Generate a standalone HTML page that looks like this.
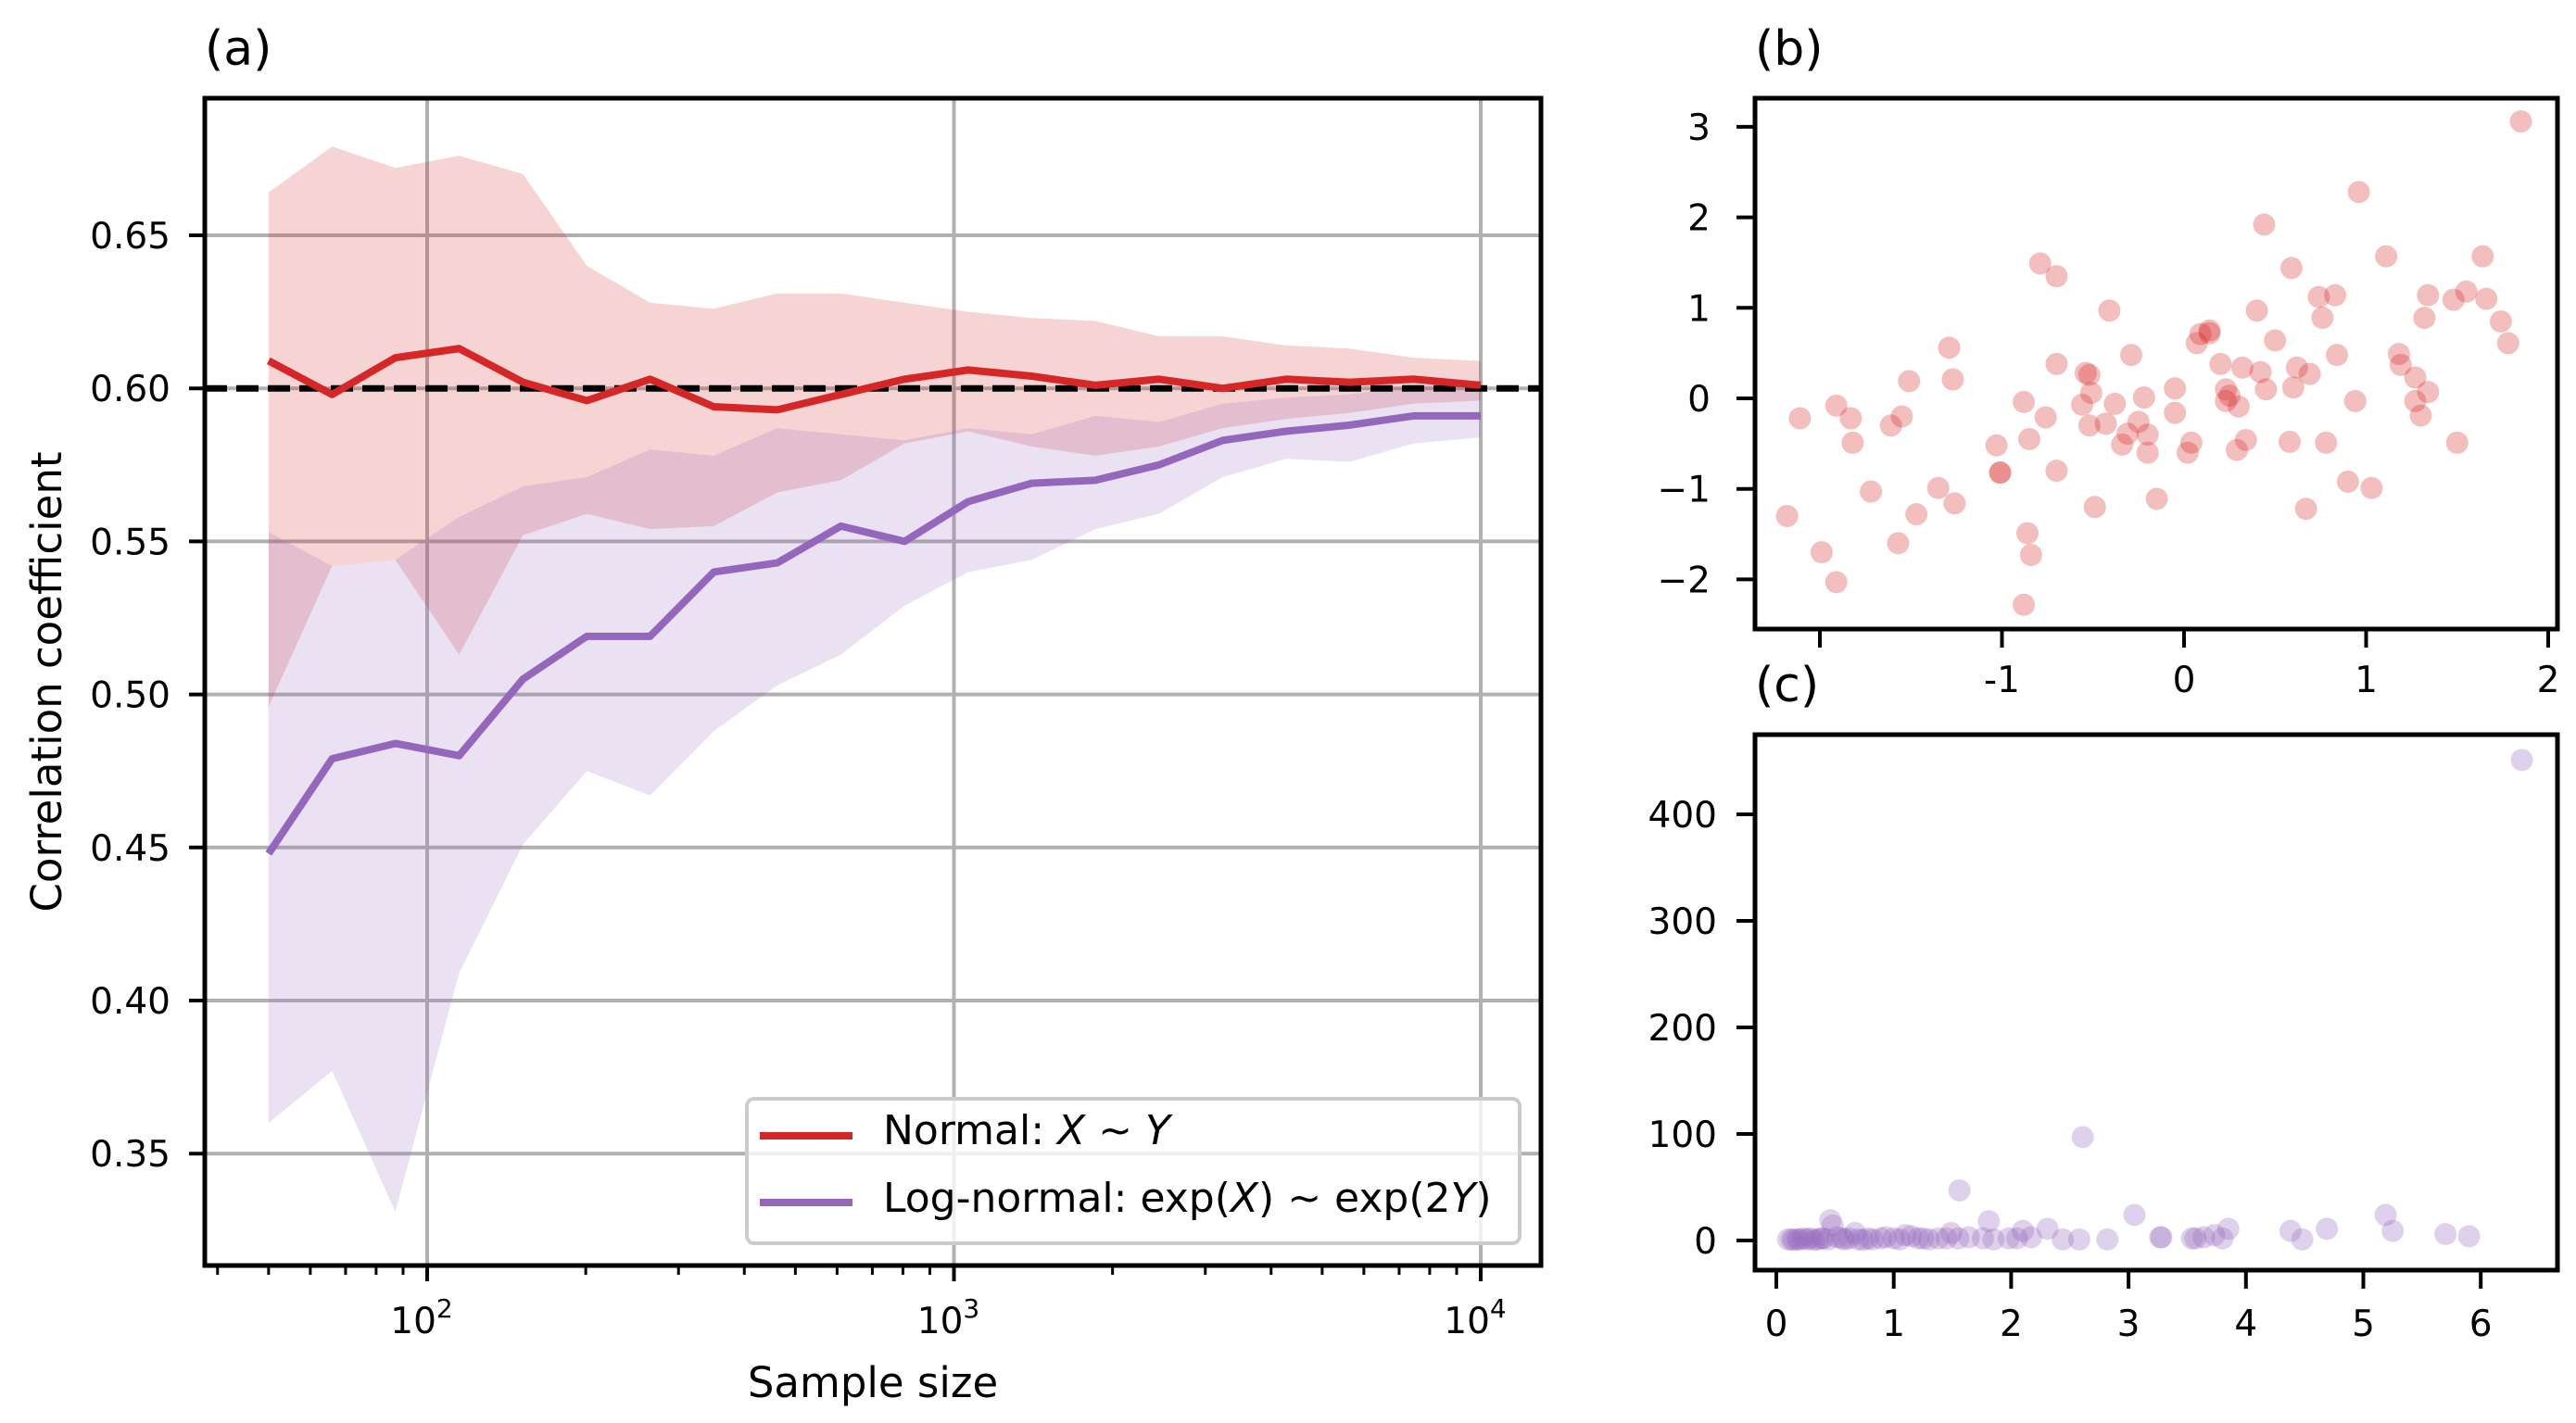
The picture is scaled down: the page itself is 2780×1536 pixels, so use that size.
<!DOCTYPE html>
<html><head><meta charset="utf-8"><style>
html,body{margin:0;padding:0;background:#fff}
svg{display:block;font-family:"DejaVu Sans","Liberation Sans",sans-serif}
</style></head><body>
<svg id="fig" width="2780" height="1536" viewBox="0 0 2780 1536" xmlns="http://www.w3.org/2000/svg">
<rect width="2780" height="1536" fill="#fff"/>
<g id="pa"></g>
<g id="pb"></g>
<g id="pc"></g>
</svg>
<script>
// ---- Panel (a) data ----
const sampleSizes = [50,66,87,115,152,201,265,350,462,610,806,1064,1405,1856,2450,3236,4273,5643,7453,10000];
const normalMean = [0.609,0.598,0.610,0.613,0.602,0.596,0.603,0.594,0.593,0.598,0.603,0.606,0.604,0.601,0.603,0.600,0.603,0.602,0.603,0.601];
const normalUpper = [0.664,0.679,0.672,0.676,0.670,0.640,0.628,0.626,0.631,0.631,0.628,0.625,0.623,0.622,0.617,0.617,0.614,0.613,0.610,0.609];
const normalLower = [0.496,0.542,0.544,0.513,0.552,0.559,0.554,0.555,0.566,0.570,0.582,0.586,0.581,0.578,0.581,0.587,0.590,0.592,0.595,0.596];
const lognMean = [0.448,0.479,0.484,0.480,0.505,0.519,0.519,0.540,0.543,0.555,0.550,0.563,0.569,0.570,0.575,0.583,0.586,0.588,0.591,0.591];
const lognUpper = [0.553,0.542,0.544,0.558,0.568,0.571,0.580,0.578,0.587,0.585,0.583,0.587,0.585,0.591,0.589,0.595,0.597,0.598,0.601,0.600];
const lognLower = [0.360,0.377,0.331,0.409,0.451,0.475,0.467,0.488,0.503,0.513,0.529,0.540,0.544,0.554,0.559,0.571,0.577,0.576,0.582,0.584];
const aYTicks = [0.35,0.40,0.45,0.50,0.55,0.60,0.65];
const aYTickLabels = ["0.35","0.40","0.45","0.50","0.55","0.60","0.65"];
const aXTicks = [2,3,4];
const trueValue = 0.6;

// ---- Panel (b) data ----
const normX = [-2.18,-2.11,-1.99,-1.91,-1.91,-1.83,-1.82,-1.72,-1.61,-1.57,-1.55,-1.51,-1.47,-1.35,-1.29,-1.27,-1.26,-1.03,-1.01,-1.01,-0.88,-0.88,-0.86,-0.85,-0.84,-0.79,-0.76,-0.70,-0.70,-0.70,-0.56,-0.54,-0.52,-0.52,-0.51,-0.49,-0.43,-0.41,-0.38,-0.34,-0.31,-0.29,-0.25,-0.22,-0.20,-0.20,-0.15,-0.05,-0.05,0.02,0.04,0.07,0.09,0.14,0.14,0.20,0.23,0.23,0.25,0.29,0.30,0.32,0.34,0.40,0.42,0.44,0.45,0.50,0.58,0.59,0.60,0.62,0.67,0.69,0.74,0.76,0.78,0.83,0.84,0.90,0.94,0.96,1.03,1.11,1.18,1.19,1.27,1.27,1.30,1.32,1.34,1.34,1.48,1.50,1.55,1.64,1.66,1.74,1.78,1.85];
const normY = [-1.30,-0.22,-1.70,-0.08,-2.03,-0.22,-0.49,-1.03,-0.30,-1.60,-0.20,0.19,-1.28,-0.99,0.56,0.21,-1.16,-0.52,-0.82,-0.82,-0.04,-2.28,-1.49,-0.45,-1.73,1.49,-0.21,1.35,0.38,-0.80,-0.07,0.28,0.26,-0.30,0.06,-1.20,-0.28,0.97,-0.06,-0.51,-0.39,0.48,-0.26,0.01,-0.40,-0.60,-1.11,0.11,-0.16,-0.60,-0.49,0.61,0.71,0.75,0.72,0.38,0.10,-0.03,0.03,-0.57,-0.09,0.34,-0.46,0.97,0.29,1.92,0.10,0.64,-0.48,1.44,0.12,0.34,-1.22,0.27,1.12,0.89,-0.49,1.14,0.48,-0.92,-0.03,2.28,-0.99,1.57,0.49,0.37,0.23,-0.03,-0.19,0.89,0.07,1.14,1.09,-0.49,1.18,1.57,1.10,0.85,0.61,3.06];
const bXTicks = [-2,-1,0,1,2];
const bXTickLabels = ["","-1","0","1","2"];
const bYTicks = [-2,-1,0,1,2,3];
const bYTickLabels = ["\u22122","\u22121","0","1","2","3"];

// ---- Panel (c) data ----
const lnX = [6.35,2.61,1.56,3.05,5.19,0.46,1.81,4.69,3.85,4.38,5.25,2.31,2.10,5.70,5.90,4.48,3.73,3.28,3.54,2.82,2.58,2.44,2.17,1.98,1.76,1.64,1.49,1.38,1.21,1.10,1.00,0.89,0.78,0.67,0.56,0.48,0.40,0.29,0.18,0.10,3.64,3.80,0.13,0.15,0.20,0.23,0.26,0.32,0.35,0.38,0.44,0.52,0.58,0.62,0.70,0.74,0.82,0.93,1.05,1.15,1.25,1.30,1.45,1.55,1.85,2.05,3.27,3.57];
const lnY = [451,97,47,24,24,19,18,11,11,9,9,11,9,6,4,1,5,3,2,1,1,1,3,2,2,3,7,2,2,5,2,2,2,7,2,14,2,2,1,1,3,2,1,0.5,1,2,1,0.5,1,2,1,3,1,2,1,0.5,1,3,1,4,2,1,2,2,1,2,3,2];
const cXTicks = [0,1,2,3,4,5,6];
const cYTicks = [0,100,200,300,400];

const NS = "http://www.w3.org/2000/svg";
function mk(parent, tag, attrs, name, text){
  const e = document.createElementNS(NS, tag);
  for (const k in attrs) e.setAttribute(k, attrs[k]);
  
  
  if (text !== undefined) e.textContent = text;
  parent.appendChild(e);
  return e;
}

// ===== Panel A =====
const pa = document.getElementById('pa');
const aL=221, aR=1663, aT=106, aB=1366;
const ax = n => 461 + (Math.log10(n)-2)*568.5;
const ay = v => 419.2 - (v-0.60)*3304;
aYTicks.forEach((t,i)=>{
  mk(pa,'line',{x1:aL,x2:aR,y1:ay(t),y2:ay(t),stroke:'#b0b0b0','stroke-width':4},'y-gridline');
  mk(pa,'line',{x1:aL-17,x2:aL,y1:ay(t),y2:ay(t),stroke:'#000','stroke-width':4},'y-tick');
  mk(pa,'text',{x:184,y:ay(t)+14,'text-anchor':'end','font-size':39},'y-tick-label',aYTickLabels[i]);
});
aXTicks.forEach(p=>{
  const x=ax(Math.pow(10,p));
  mk(pa,'line',{x1:x,x2:x,y1:aT,y2:aB,stroke:'#b0b0b0','stroke-width':4},'x-gridline');
  mk(pa,'line',{x1:x,x2:x,y1:aB,y2:aB+17,stroke:'#000','stroke-width':4},'x-tick');
  const t=mk(pa,'text',{x:x-6,y:1439,'text-anchor':'middle','font-size':39},'x-tick-label','10');
  const s=document.createElementNS(NS,'tspan');
  s.setAttribute('dy','-17');s.setAttribute('font-size','28');s.textContent=String(p);
  t.appendChild(s);
});
for (let p=1;p<=3;p++) for (let m=2;m<=9;m++){
  const n=m*Math.pow(10,p); const x=ax(n);
  if (x<aL||x>aR) continue;
  mk(pa,'line',{x1:x,x2:x,y1:aB,y2:aB+10,stroke:'#000','stroke-width':3},'x-minor-tick');
}
function band(up,lo,fill,op,name){
  let d='M'+sampleSizes.map((n,i)=>ax(n)+','+ay(up[i])).join('L');
  for(let i=sampleSizes.length-1;i>=0;i--) d+='L'+ax(sampleSizes[i])+','+ay(lo[i]);
  mk(pa,'path',{d:d+'Z',fill:fill,'fill-opacity':op},name);
}
band(normalUpper,normalLower,'#d62728',0.2,'normal-band');
band(lognUpper,lognLower,'#9467bd',0.2,'lognormal-band');
mk(pa,'line',{x1:aL,x2:aR,y1:ay(trueValue),y2:ay(trueValue),stroke:'#000','stroke-width':7,'stroke-dasharray':'24 10'},'true-correlation-line');
mk(pa,'polyline',{points:sampleSizes.map((n,i)=>ax(n)+','+ay(normalMean[i])).join(' '),fill:'none',stroke:'#d62728','stroke-width':8,'stroke-linejoin':'round'},'normal-line');
mk(pa,'polyline',{points:sampleSizes.map((n,i)=>ax(n)+','+ay(lognMean[i])).join(' '),fill:'none',stroke:'#9467bd','stroke-width':8,'stroke-linejoin':'round'},'lognormal-line');
mk(pa,'rect',{x:aL,y:aT,width:aR-aL,height:aB-aT,fill:'none',stroke:'#000','stroke-width':5},'axes-frame-a');
const lg=mk(pa,'g',{},'legend');
mk(lg,'rect',{x:806,y:1186,width:834,height:156,rx:8,fill:'#fff','fill-opacity':0.8,stroke:'#cccccc','stroke-width':4},'legend-box');
mk(lg,'line',{x1:820,x2:920,y1:1226,y2:1226,stroke:'#d62728','stroke-width':8},'legend-swatch-normal');
mk(lg,'line',{x1:820,x2:920,y1:1298,y2:1298,stroke:'#9467bd','stroke-width':8},'legend-swatch-lognormal');
const t1=mk(lg,'text',{x:953,y:1235,'font-size':44},'legend-entry-normal');
t1.innerHTML='Normal: <tspan font-style="italic">X</tspan> ~ <tspan font-style="italic">Y</tspan>';
const t2=mk(lg,'text',{x:953,y:1308,'font-size':44},'legend-entry-lognormal');
t2.innerHTML='Log-normal: exp(<tspan font-style="italic">X</tspan>) ~ exp(2<tspan font-style="italic">Y</tspan>)';
mk(pa,'text',{x:221,y:70,'font-size':52},'panel-a-title','(a)');
mk(pa,'text',{x:942,y:1508,'text-anchor':'middle','font-size':45},'x-axis-title','Sample size');
mk(pa,'text',{x:0,y:0,'text-anchor':'middle','font-size':45,transform:'translate(66,736) rotate(-90)'},'y-axis-title','Correlation coefficient');

// ===== Panel B =====
const pb=document.getElementById('pb');
const bL=1894,bR=2760,bT=106,bB=679;
const bx=v=>2357+v*196.5, by=v=>430-v*97.7;
normX.forEach((x,i)=>{
  mk(pb,'circle',{cx:bx(x),cy:by(normY[i]),r:12,fill:'#d62728','fill-opacity':0.3},'normal-point');
});
bYTicks.forEach((t,i)=>{
  mk(pb,'line',{x1:bL-20,x2:bL,y1:by(t),y2:by(t),stroke:'#000','stroke-width':4},'b-y-tick');
  mk(pb,'text',{x:1846,y:by(t)+14,'text-anchor':'end','font-size':39},'b-y-tick-label',bYTickLabels[i]);
});
bXTicks.forEach((t,i)=>{
  mk(pb,'line',{x1:bx(t),x2:bx(t),y1:bB,y2:bB+20,stroke:'#000','stroke-width':4},'b-x-tick');
  mk(pb,'text',{x:bx(t),y:747,'text-anchor':'middle','font-size':39},'b-x-tick-label',bXTickLabels[i]);
});
mk(pb,'rect',{x:bL,y:bT,width:bR-bL,height:bB-bT,fill:'none',stroke:'#000','stroke-width':5},'axes-frame-b');
mk(pb,'text',{x:1894,y:70,'font-size':52},'panel-b-title','(b)');

// ===== Panel C =====
const pc=document.getElementById('pc');
const cL=1894,cR=2760,cT=793,cB=1371;
const cx=v=>1917+v*126.7, cy=v=>1339-v*1.15;
lnX.forEach((x,i)=>{
  mk(pc,'circle',{cx:cx(x),cy:cy(lnY[i]),r:12,fill:'#9467bd','fill-opacity':0.3},'lognormal-point');
});
cYTicks.forEach(t=>{
  mk(pc,'line',{x1:cL-20,x2:cL,y1:cy(t),y2:cy(t),stroke:'#000','stroke-width':4},'c-y-tick');
  mk(pc,'text',{x:1853,y:cy(t)+14,'text-anchor':'end','font-size':39},'c-y-tick-label',String(t));
});
cXTicks.forEach(t=>{
  mk(pc,'line',{x1:cx(t),x2:cx(t),y1:cB,y2:cB+20,stroke:'#000','stroke-width':4},'c-x-tick');
  mk(pc,'text',{x:cx(t),y:1442,'text-anchor':'middle','font-size':39},'c-x-tick-label',String(t));
});
mk(pc,'rect',{x:cL,y:cT,width:cR-cL,height:cB-cT,fill:'none',stroke:'#000','stroke-width':5},'axes-frame-c');
mk(pc,'text',{x:1894,y:757,'font-size':52},'panel-c-title','(c)');
</script>
</body></html>
